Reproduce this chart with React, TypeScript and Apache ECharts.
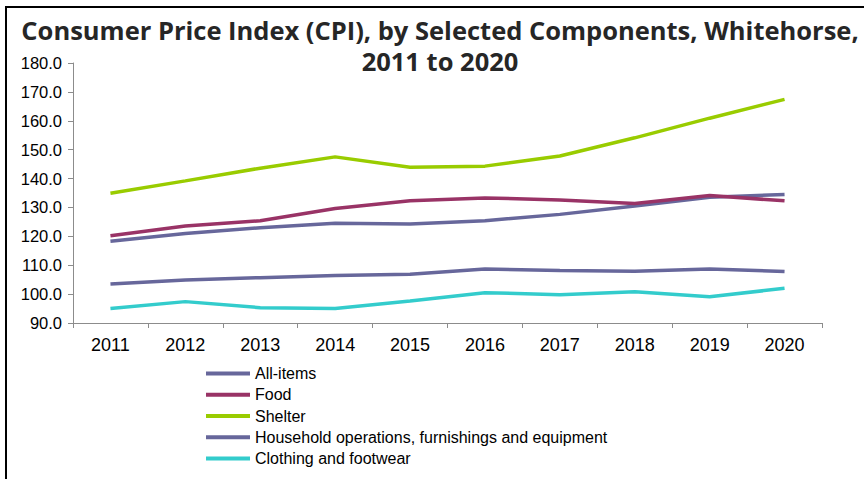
import React, { useEffect, useRef } from "react";
import * as echarts from "echarts";

const years = ["2011", "2012", "2013", "2014", "2015", "2016", "2017", "2018", "2019", "2020"];
const allItems = [118.3, 121.0, 123.0, 124.5, 124.3, 125.4, 127.6, 130.5, 133.5, 134.5];
const food = [120.2, 123.6, 125.4, 129.6, 132.3, 133.3, 132.6, 131.4, 134.1, 132.3];
const shelter = [134.9, 139.2, 143.6, 147.5, 143.9, 144.3, 147.8, 154.1, 160.9, 167.4];
const household = [103.5, 104.9, 105.7, 106.4, 106.9, 108.7, 108.2, 107.9, 108.7, 107.8];
const clothing = [95.0, 97.4, 95.3, 95.0, 97.6, 100.5, 99.8, 100.8, 99.1, 102.0];

const seriesNames = [
  "All-items",
  "Food",
  "Shelter",
  "Household operations, furnishings and equipment",
  "Clothing and footwear",
];
const seriesData = [allItems, food, shelter, household, clothing];
const seriesColors = ["#67679B", "#993366", "#99CC00", "#67679B", "#33CCCC"];

const titleLines = [
  "Consumer Price Index (CPI), by Selected Components, Whitehorse,",
  "2011 to 2020",
];

export default function App() {
  const ref = useRef<HTMLDivElement>(null);
  useEffect(() => {
    if (!ref.current) return;
    const chart = echarts.init(ref.current, null, { renderer: "svg" });
    const titleStyle = {
      fontFamily: "Open Sans",
      fontWeight: "bold",
      fontSize: 25.5,
      color: "#262626",
    };
    chart.setOption({
      animation: false,
      backgroundColor: "#ffffff",
      title: titleLines.map((t, i) => ({
        text: t,
        left: 440,
        textAlign: "center",
        top: i === 0 ? 16.5 : 48,
        padding: 0,
        textStyle: titleStyle,
      })),
      graphic: [
        {
          type: "rect",
          shape: { x: 6, y: 7, width: 900, height: 500 },
          style: { fill: "none", stroke: "#000", lineWidth: 2 },
          silent: true,
        },
      ],
      legend: {
        orient: "vertical",
        left: 201,
        top: 358,
        itemWidth: 44,
        itemHeight: 4,
        itemGap: 0,
        icon: "rect",
        textStyle: {
          fontFamily: "Liberation Sans, Arial",
          fontSize: 16,
          lineHeight: 21.2,
          color: "#000",
        },
        data: seriesNames.map((n, i) => ({ name: n, itemStyle: { color: seriesColors[i] } })),
      },
      grid: { left: 73, top: 63, right: 42, bottom: 156, containLabel: false },
      xAxis: {
        type: "category",
        data: years,
        boundaryGap: true,
        axisLine: { lineStyle: { color: "#8c8c8c", width: 1 } },
        axisTick: { show: true, length: 5, lineStyle: { color: "#8c8c8c" } },
        axisLabel: { fontFamily: "Liberation Sans, Arial", fontSize: 18, color: "#000", margin: 13 },
      },
      yAxis: {
        type: "value",
        min: 90,
        max: 180,
        interval: 10,
        axisLine: { show: true, lineStyle: { color: "#8c8c8c", width: 1 } },
        axisTick: { show: true, length: 5, lineStyle: { color: "#8c8c8c" } },
        splitLine: { show: false },
        axisLabel: {
          fontFamily: "Liberation Sans, Arial",
          fontSize: 16.5,
          color: "#000",
          margin: 11,
          formatter: (v: number) => v.toFixed(1),
        },
      },
      series: seriesNames.map((n, i) => ({
        name: n,
        type: "line",
        data: seriesData[i],
        symbol: "none",
        lineStyle: { color: seriesColors[i], width: 3.5 },
        itemStyle: { color: seriesColors[i] },
      })),
    });
    return () => chart.dispose();
  }, []);
  return (
    <div
      ref={ref}
      style={{ position: "fixed", left: 0, top: 0, width: 864, height: 479 }}
    />
  );
}
